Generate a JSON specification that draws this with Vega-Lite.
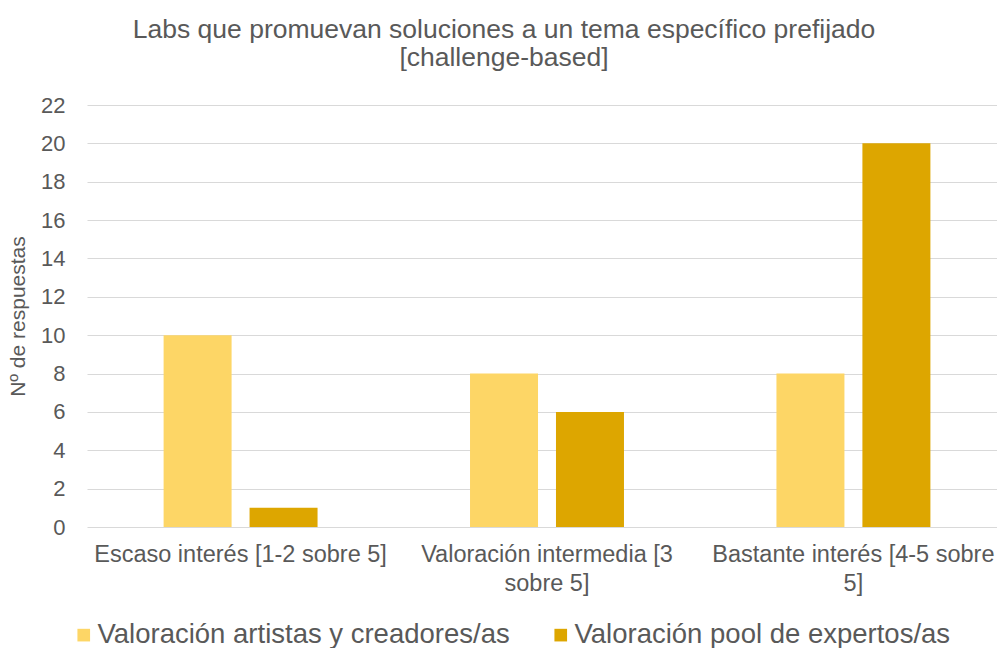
{
  "$schema": "https://vega.github.io/schema/vega-lite/v6.json",
  "width": 920,
  "height": 422,
  "autosize": {"type": "none"},
  "padding": {"left": 87, "top": 105, "right": -10, "bottom": 121},
  "background": "white",
  "title": {
    "text": ["Labs que promuevan soluciones a un tema específico prefijado", "[challenge-based]"],
    "anchor": "middle",
    "dx": -43,
    "offset": 23,
    "font": "Liberation Sans",
    "fontSize": 26.5,
    "fontWeight": "normal",
    "color": "#595959",
    "lineHeight": 28
  },
  "config": {
    "view": {"stroke": null},
    "font": "Liberation Sans"
  },
  "data": {
    "values": [
      {"cat": "Escaso interés [1-2 sobre 5]", "serie": "Valoración artistas y creadores/as", "n": 10},
      {"cat": "Escaso interés [1-2 sobre 5]", "serie": "Valoración pool de expertos/as", "n": 1},
      {"cat": "Valoración intermedia [3 sobre 5]", "serie": "Valoración artistas y creadores/as", "n": 8},
      {"cat": "Valoración intermedia [3 sobre 5]", "serie": "Valoración pool de expertos/as", "n": 6},
      {"cat": "Bastante interés [4-5 sobre 5]", "serie": "Valoración artistas y creadores/as", "n": 8},
      {"cat": "Bastante interés [4-5 sobre 5]", "serie": "Valoración pool de expertos/as", "n": 20}
    ]
  },
  "mark": {"type": "bar"},
  "encoding": {
    "x": {
      "field": "cat",
      "type": "nominal",
      "sort": null,
      "scale": {"paddingInner": 0.4976, "paddingOuter": 0.25},
      "axis": {
        "title": null,
        "labelAngle": 0,
        "domain": false,
        "ticks": false,
        "labelPadding": 15,
        "labelFontSize": 23.5,
        "labelColor": "#595959",
        "labelLineHeight": 29,
        "labelLimit": 400,
        "labelExpr": "datum.value == 'Valoración intermedia [3 sobre 5]' ? ['Valoración intermedia [3', 'sobre 5]'] : datum.value == 'Bastante interés [4-5 sobre 5]' ? ['Bastante interés [4-5 sobre', '5]'] : datum.value"
      }
    },
    "xOffset": {
      "field": "serie",
      "type": "nominal",
      "scale": {"paddingInner": 0.209, "paddingOuter": 0}
    },
    "y": {
      "field": "n",
      "type": "quantitative",
      "scale": {"domain": [0, 22]},
      "axis": {
        "title": "Nº de respuestas",
        "titleFont": "Liberation Sans",
        "titleFontSize": 21,
        "titleFontWeight": "normal",
        "titleColor": "#595959",
        "titlePadding": 12,
        "values": [0, 2, 4, 6, 8, 10, 12, 14, 16, 18, 20, 22],
        "domain": false,
        "ticks": false,
        "labelPadding": 22,
        "labelFontSize": 22,
        "labelColor": "#595959",
        "gridColor": "#d9d9d9",
        "gridWidth": 1
      }
    },
    "color": {
      "field": "serie",
      "type": "nominal",
      "scale": {
        "domain": ["Valoración artistas y creadores/as", "Valoración pool de expertos/as"],
        "range": ["#FDD666", "#DDA600"]
      },
      "legend": {
        "title": null,
        "orient": "none",
        "direction": "horizontal",
        "legendX": -17,
        "legendY": 516,
        "symbolType": "square",
        "symbolSize": 160,
        "symbolStrokeWidth": 0,
        "labelFontSize": 27.5,
        "labelColor": "#595959",
        "labelOffset": 0,
        "labelLimit": 600,
        "columnPadding": 37
      }
    }
  }
}
